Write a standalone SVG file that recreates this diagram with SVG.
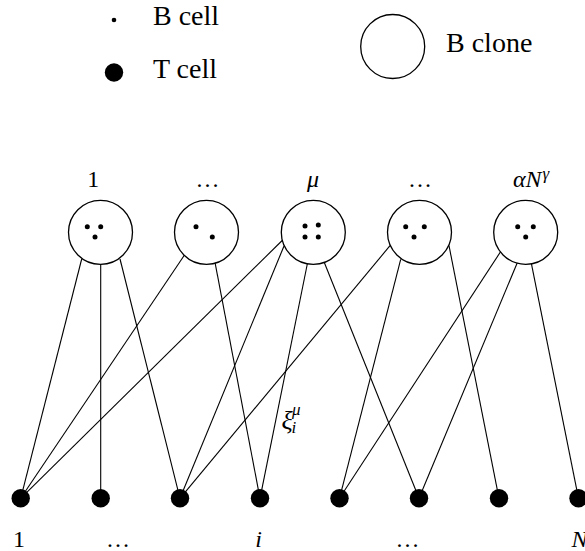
<svg xmlns="http://www.w3.org/2000/svg" width="585" height="551" viewBox="0 0 585 551" font-family="'Liberation Serif', 'DejaVu Serif', serif">
<style>
.clone{fill:#fff;stroke:#000;stroke-width:1.3}
.b{fill:#000}
.t{fill:#000}
.edge{stroke:#000;stroke-width:1.1;fill:none}
.txt{fill:#000}
.leg{font-size:28px}
.lab{font-size:24px}
.m{font-style:italic}
</style>
<rect width="585" height="551" fill="#fff"/>
<g id="legend">
  <circle class="b" cx="114" cy="20" r="2.3"/>
  <text class="txt leg" x="153" y="25">B cell</text>
  <circle class="t" cx="114" cy="72.5" r="9.2"/>
  <text class="txt leg" x="153" y="78">T cell</text>
  <circle class="clone" cx="392.7" cy="46.5" r="32"/>
  <text class="txt leg" x="446" y="52">B clone</text>
</g>
<g id="connectors">
  <line class="edge" x1="81.7" y1="259" x2="20.7" y2="498.3"/>
  <line class="edge" x1="100.7" y1="264.3" x2="100.7" y2="498.3"/>
  <line class="edge" x1="120" y1="259" x2="180" y2="498.3"/>
  <line class="edge" x1="185" y1="254.3" x2="20.7" y2="498.3"/>
  <line class="edge" x1="215" y1="262.3" x2="260" y2="498.3"/>
  <line class="edge" x1="282.7" y1="240" x2="20.7" y2="498.3"/>
  <line class="edge" x1="284" y1="246" x2="180" y2="498.3"/>
  <line class="edge" x1="307.3" y1="264" x2="260" y2="498.3"/>
  <line class="edge" x1="324" y1="261.7" x2="419" y2="498.3"/>
  <line class="edge" x1="390" y1="245.7" x2="180" y2="498.3"/>
  <line class="edge" x1="400.7" y1="259.3" x2="339.5" y2="498.3"/>
  <line class="edge" x1="449" y1="245.7" x2="499" y2="498.3"/>
  <line class="edge" x1="501.7" y1="250" x2="339.5" y2="498.3"/>
  <line class="edge" x1="517.7" y1="261.7" x2="419" y2="498.3"/>
  <line class="edge" x1="531" y1="261.7" x2="578.5" y2="498.3"/>
  <g id="xi-label" class="txt m">
    <text x="281.5" y="429" font-size="26">ξ</text>
    <text x="292" y="415" font-size="17">μ</text>
    <text x="291.5" y="433" font-size="17">i</text>
  </g>
</g>
<g id="clone1">
  <circle class="clone" cx="100.5" cy="232.3" r="32"/>
  <circle class="b" cx="87.3" cy="226.7" r="2.5"/>
  <circle class="b" cx="100.7" cy="226.7" r="2.5"/>
  <circle class="b" cx="95" cy="237" r="2.5"/>
  <text class="txt lab" x="93.3" y="187" text-anchor="middle">1</text>
</g>
<g id="clone2">
  <circle class="clone" cx="206.5" cy="232.3" r="32"/>
  <circle class="b" cx="196" cy="226.7" r="2.5"/>
  <circle class="b" cx="212.3" cy="237" r="2.5"/>
  <text class="txt lab" x="207.5" y="187" text-anchor="middle">…</text>
</g>
<g id="clone3">
  <circle class="clone" cx="313.3" cy="232.3" r="32"/>
  <circle class="b" cx="305" cy="226" r="2.5"/>
  <circle class="b" cx="318.3" cy="225" r="2.5"/>
  <circle class="b" cx="305" cy="237" r="2.5"/>
  <circle class="b" cx="318.3" cy="237" r="2.5"/>
  <text class="txt lab m" x="313" y="187" text-anchor="middle">μ</text>
</g>
<g id="clone4">
  <circle class="clone" cx="419.5" cy="232.3" r="32"/>
  <circle class="b" cx="405.7" cy="226.7" r="2.5"/>
  <circle class="b" cx="424.3" cy="226.7" r="2.5"/>
  <circle class="b" cx="414" cy="237" r="2.5"/>
  <text class="txt lab" x="420" y="187" text-anchor="middle">…</text>
</g>
<g id="clone5">
  <circle class="clone" cx="525.7" cy="232.3" r="32"/>
  <circle class="b" cx="517.7" cy="226.7" r="2.5"/>
  <circle class="b" cx="533.3" cy="226.7" r="2.5"/>
  <circle class="b" cx="525.7" cy="237" r="2.5"/>
  <text class="txt lab m" x="513" y="187">αN<tspan font-size="17" dx="1" dy="-8">γ</tspan></text>
</g>
<g id="tcell1"><circle class="t" cx="20.7" cy="498.3" r="9.2"/><text class="txt lab" x="19" y="547" text-anchor="middle">1</text></g>
<g id="tcell2"><circle class="t" cx="100.7" cy="498.3" r="9.2"/><text class="txt lab" x="118" y="547" text-anchor="middle">…</text></g>
<g id="tcell3"><circle class="t" cx="180" cy="498.3" r="9.2"/></g>
<g id="tcell4"><circle class="t" cx="260" cy="498.3" r="9.2"/><text class="txt lab m" x="258.5" y="547" text-anchor="middle">i</text></g>
<g id="tcell5"><circle class="t" cx="339.5" cy="498.3" r="9.2"/></g>
<g id="tcell6"><circle class="t" cx="419" cy="498.3" r="9.2"/><text class="txt lab" x="407.5" y="547" text-anchor="middle">…</text></g>
<g id="tcell7"><circle class="t" cx="499" cy="498.3" r="9.2"/></g>
<g id="tcell8"><circle class="t" cx="578.5" cy="498.3" r="9.2"/><text class="txt lab m" x="571.5" y="547">N</text></g>
</svg>
